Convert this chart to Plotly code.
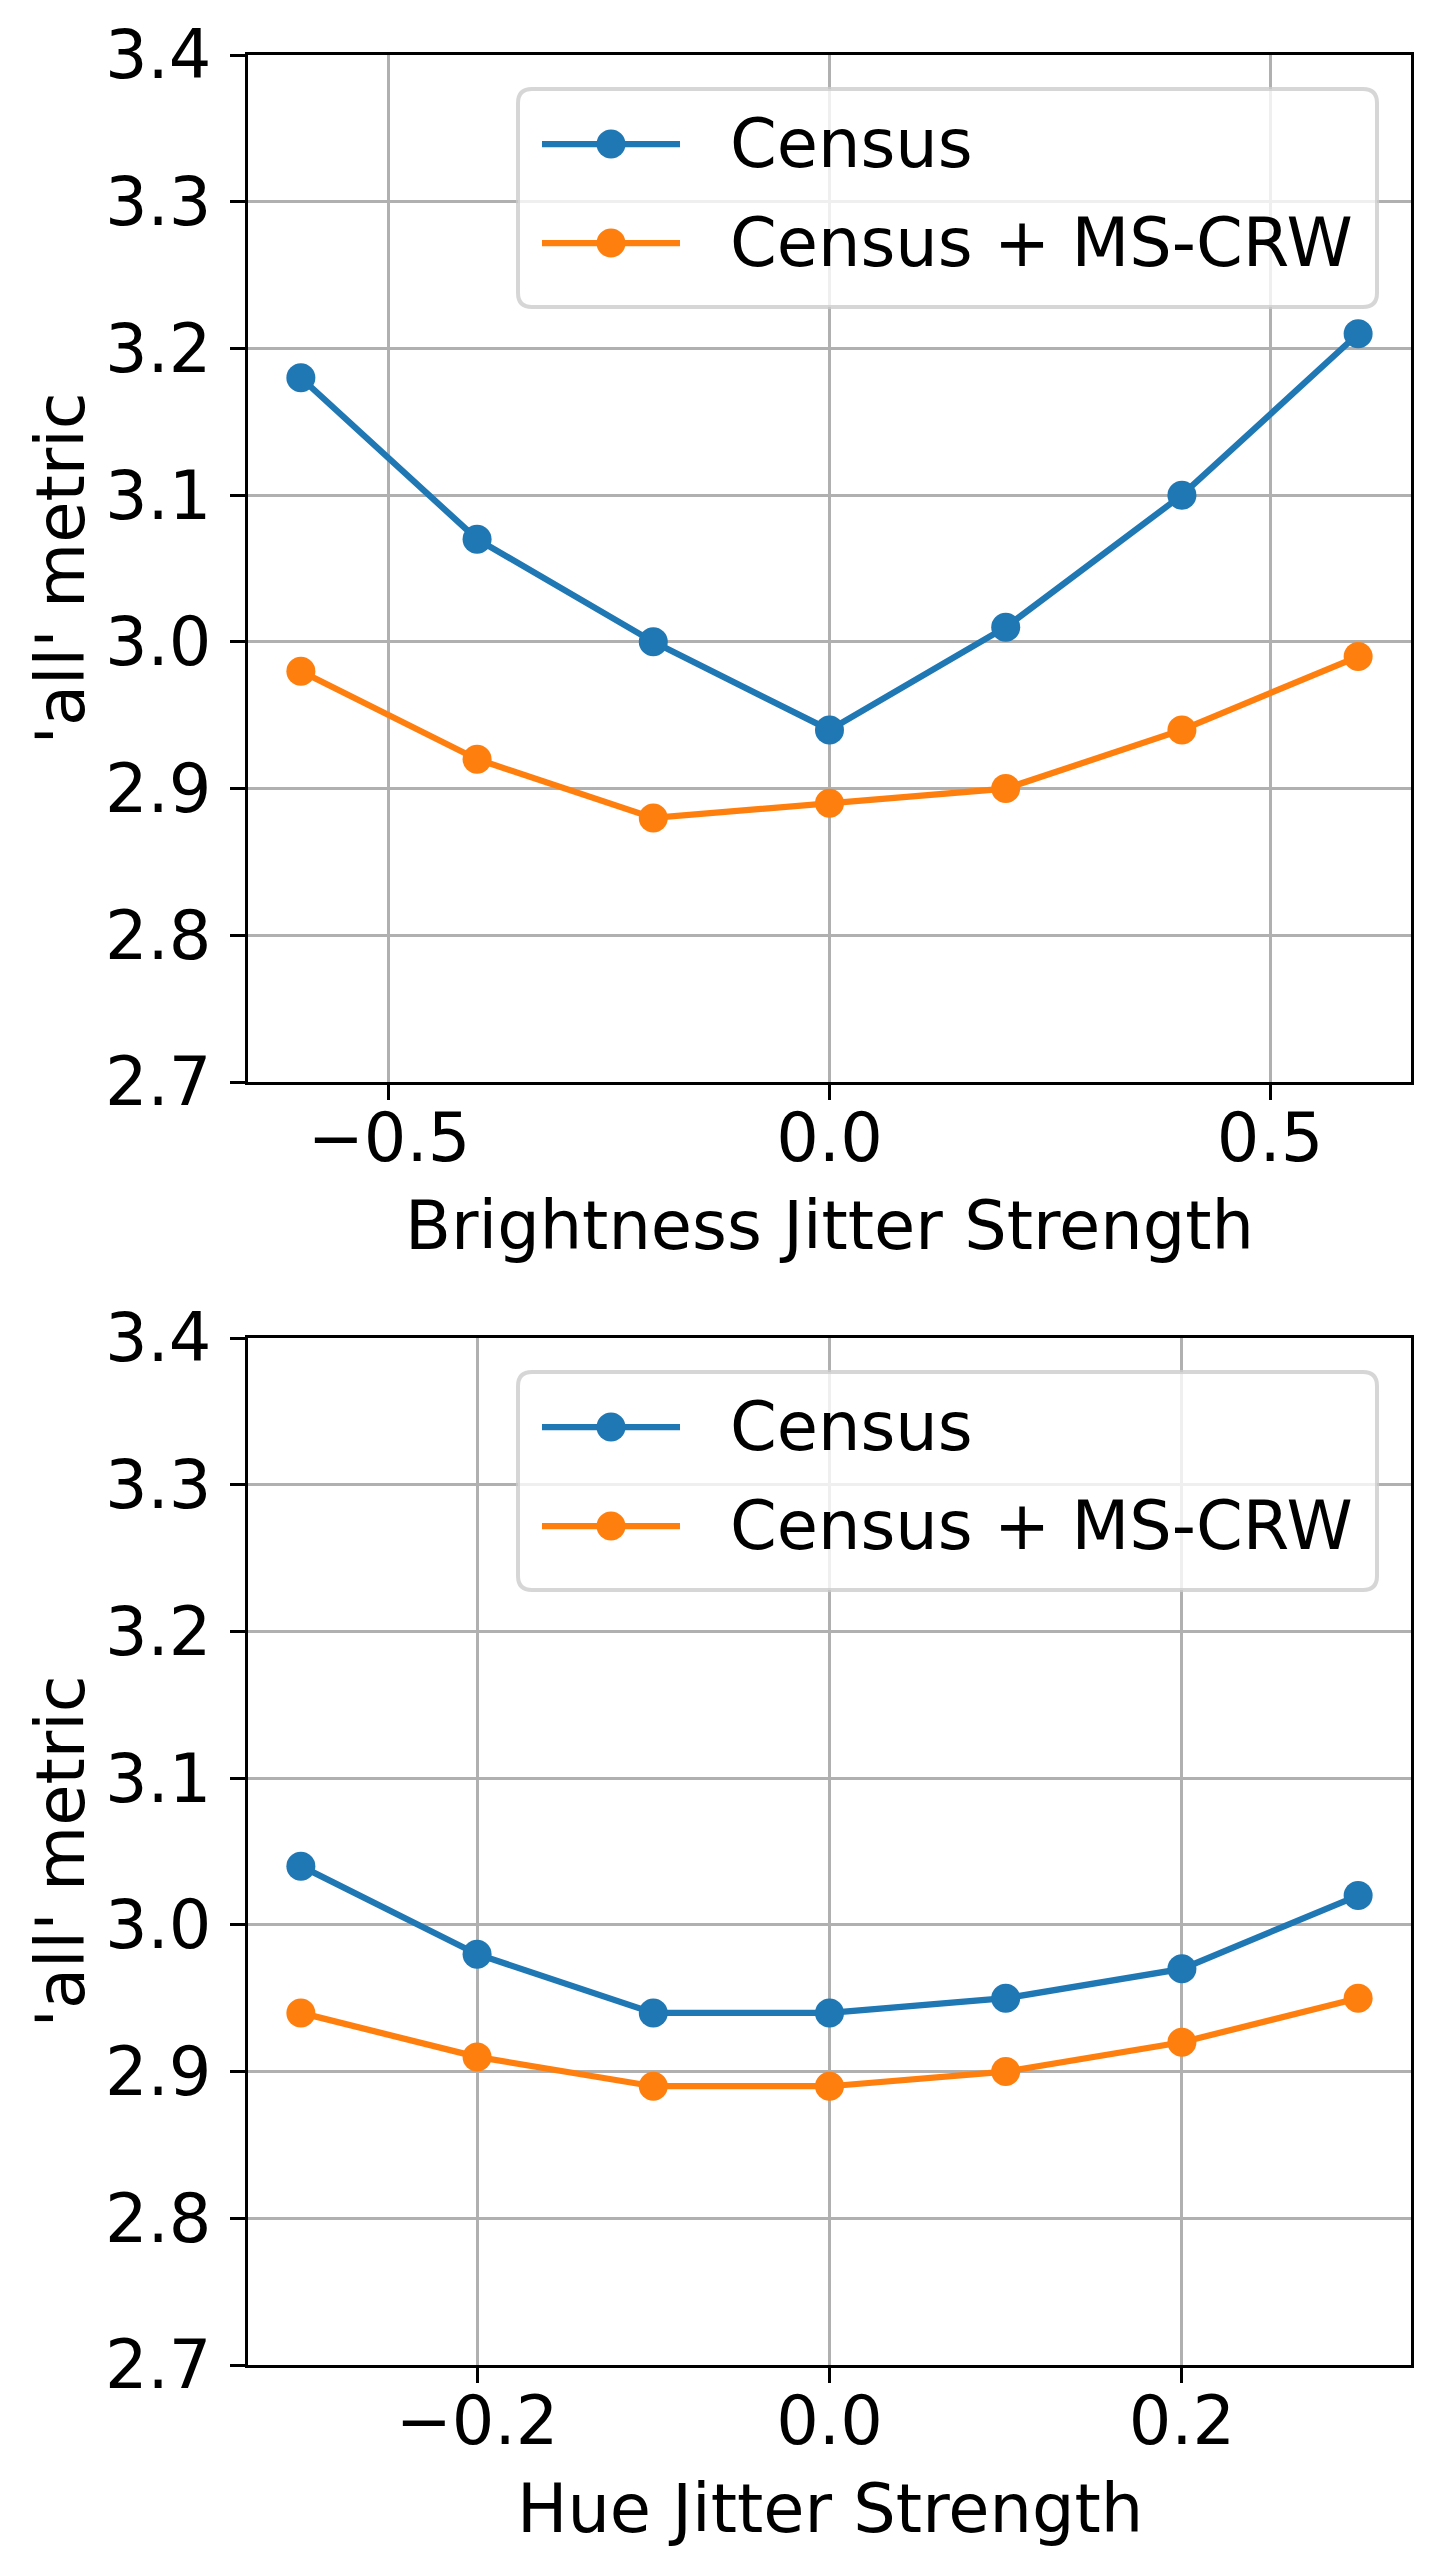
import plotly.graph_objects as go

# ---- data ----
BRIGHT_X = [-0.6, -0.4, -0.2, 0.0, 0.2, 0.4, 0.6]
BRIGHT_CENSUS = [3.18, 3.07, 3.00, 2.94, 3.01, 3.10, 3.21]
BRIGHT_MSCRW = [2.98, 2.92, 2.88, 2.89, 2.90, 2.94, 2.99]

HUE_X = [-0.3, -0.2, -0.1, 0.0, 0.1, 0.2, 0.3]
HUE_CENSUS = [3.04, 2.98, 2.94, 2.94, 2.95, 2.97, 3.02]
HUE_MSCRW = [2.94, 2.91, 2.89, 2.89, 2.90, 2.92, 2.95]

SERIES_NAMES = ["Census", "Census + MS-CRW"]
Y_TICKS = [2.7, 2.8, 2.9, 3.0, 3.1, 3.2, 3.3, 3.4]
BRIGHT_TICKS = [-0.5, 0.0, 0.5]
HUE_TICKS = [-0.2, 0.0, 0.2]
X_TITLES = ["Brightness Jitter Strength", "Hue Jitter Strength"]
Y_TITLE = "'all' metric"

# ---- styling ----
W, H = 1440, 2573
PAGE_PAD = 8     # browser body margin, compensated below
FONT = "DejaVu Sans"
FS = 67          # 16 pt at 300 dpi
LW = 6.25        # 1.5 pt
MS = 29          # 6 pt marker + 1 pt edge
THIN = 3.3       # 0.8 pt
COLORS = ["#1f77b4", "#ff7f0e"]

# plot area in pixels: (left, right, top, bottom)
PANELS = [(248, 1411, 55, 1082), (248, 1411, 1338, 2365)]


def px(x):
    return (x - PAGE_PAD) / W


def py(y):
    return 1 - (y - PAGE_PAD) / H


fig = go.Figure()

panels_data = [
    (BRIGHT_X, [BRIGHT_CENSUS, BRIGHT_MSCRW], BRIGHT_TICKS, [-0.66, 0.66]),
    (HUE_X, [HUE_CENSUS, HUE_MSCRW], HUE_TICKS, [-0.33, 0.33]),
]

layout = dict(
    width=W, height=H,
    margin=dict(l=0, r=0, t=0, b=0, autoexpand=False),
    paper_bgcolor="white",
    plot_bgcolor="white",
    showlegend=False,
    font=dict(family=FONT, size=FS, color="black"),
)

shapes = []
annotations = []

for k, (xs, ys_list, xticks, xrange_) in enumerate(panels_data):
    n = "" if k == 0 else str(k + 1)
    l, r, t, b = PANELS[k]

    for name, ys, col in zip(SERIES_NAMES, ys_list, COLORS):
        fig.add_trace(go.Scatter(
            x=xs, y=ys, name=name,
            mode="lines+markers",
            line=dict(color=col, width=LW),
            marker=dict(color=col, size=MS, line=dict(width=0)),
            xaxis="x" + n, yaxis="y" + n,
        ))

    axis_common = dict(
        automargin=False,
        showline=True, mirror=True, linecolor="black", linewidth=THIN,
        showgrid=True, gridcolor="#b0b0b0", gridwidth=THIN,
        zeroline=False,
        ticks="outside", ticklen=15, tickwidth=THIN, tickcolor="black",
        tickfont=dict(family=FONT, size=FS, color="black"),
        tickformat=".1f",
    )
    layout["xaxis" + n] = dict(
        axis_common,
        domain=[px(l), px(r)], anchor="y" + n,
        range=xrange_, tickmode="array", tickvals=xticks,
        ticklabelstandoff=-20,
    )
    layout["yaxis" + n] = dict(
        axis_common,
        domain=[py(b), py(t)], anchor="x" + n,
        range=[2.7, 3.4], tickmode="array", tickvals=Y_TICKS,
        ticklabelstandoff=5,
    )

    # axis titles
    annotations.append(dict(
        text=X_TITLES[k], xref="paper", yref="paper",
        x=px((l + r) / 2), y=py(b + 144), xanchor="center", yanchor="middle",
        showarrow=False, font=dict(family=FONT, size=FS, color="black"),
    ))
    annotations.append(dict(
        text=Y_TITLE, xref="paper", yref="paper",
        x=px(60), y=py((t + b) / 2), xanchor="center", yanchor="middle",
        textangle=-90, showarrow=False,
        font=dict(family=FONT, size=FS, color="black"),
    ))

    # legend box (rounded, semi-transparent like matplotlib)
    bx0, bx1, by0, by1 = 518, 1377, t + 34, t + 252
    rad = 14
    path = (
        f"M {px(bx0 + rad)},{py(by0)} L {px(bx1 - rad)},{py(by0)} "
        f"Q {px(bx1)},{py(by0)} {px(bx1)},{py(by0 + rad)} "
        f"L {px(bx1)},{py(by1 - rad)} "
        f"Q {px(bx1)},{py(by1)} {px(bx1 - rad)},{py(by1)} "
        f"L {px(bx0 + rad)},{py(by1)} "
        f"Q {px(bx0)},{py(by1)} {px(bx0)},{py(by1 - rad)} "
        f"L {px(bx0)},{py(by0 + rad)} "
        f"Q {px(bx0)},{py(by0)} {px(bx0 + rad)},{py(by0)} Z"
    )
    shapes.append(dict(
        type="path", path=path, xref="paper", yref="paper",
        fillcolor="rgba(255,255,255,0.8)",
        line=dict(color="rgba(204,204,204,0.8)", width=4),
        layer="above",
    ))
    for i, (name, col) in enumerate(zip(SERIES_NAMES, COLORS)):
        ry = t + 89 + i * 99
        shapes.append(dict(
            type="line", xref="paper", yref="paper",
            x0=px(542), x1=px(680), y0=py(ry), y1=py(ry),
            line=dict(color=col, width=LW), layer="above",
        ))
        shapes.append(dict(
            type="circle", xref="paper", yref="paper",
            xsizemode="pixel", ysizemode="pixel",
            xanchor=px(611), yanchor=py(ry),
            x0=-MS / 2, x1=MS / 2, y0=-MS / 2, y1=MS / 2,
            fillcolor=col, line=dict(width=0), layer="above",
        ))
        annotations.append(dict(
            text=name, xref="paper", yref="paper",
            x=px(728), y=py(ry), xanchor="left", yanchor="middle",
            showarrow=False, font=dict(family=FONT, size=FS, color="black"),
        ))

layout["shapes"] = shapes
layout["annotations"] = annotations
fig.update_layout(**layout)

fig.write_html("out.html")
